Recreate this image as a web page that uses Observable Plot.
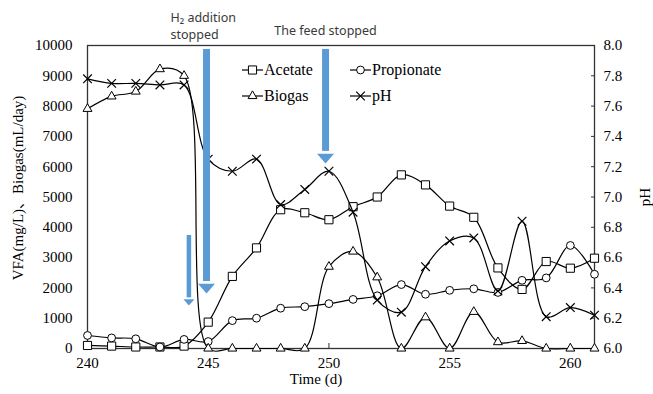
<!DOCTYPE html>
<html>
<head>
<meta charset="utf-8">
<script src="https://cdn.jsdelivr.net/npm/d3@7"></script>
<script src="https://cdn.jsdelivr.net/npm/@observablehq/plot@0.6"></script>
<style>
  html, body { margin: 0; padding: 0; background: #fff; }
  #wrap { position: relative; width: 653px; height: 394px; overflow: hidden; }
  #legend { position: absolute; left: 242px; top: 57px; display: grid;
    grid-template-columns: 108px auto; grid-auto-rows: 26px;
    font-family: "Liberation Serif", serif; font-size: 16px; color: #000; }
  #legend .item { display: flex; align-items: center; white-space: nowrap; }
  #legend svg { margin-right: 1px; }
</style>
</head>
<body>
<div id="wrap"></div>
<script>
// ---- data ----
const days = [240,241,242,243,244,245,246,247,248,249,250,251,252,253,254,255,256,257,258,259,260,261];
const acetate = [100,80,50,50,80,870,2380,3320,4580,4480,4250,4680,5000,5730,5400,4700,4330,2660,1950,2870,2650,2980];
const propionate = [430,350,320,50,300,230,920,1000,1330,1380,1480,1620,1740,2110,1790,1920,1970,1850,2250,2330,3400,2450];
const biogas = [7910,8320,8480,9220,9000,0,0,0,0,0,2700,3200,2350,0,1030,0,1210,210,250,0,0,0];
const pH = [7.78,7.75,7.75,7.74,7.74,7.25,7.17,7.25,6.95,7.05,7.17,6.90,6.32,6.24,6.54,6.71,6.73,6.38,6.84,6.21,6.27,6.22];

const xTicks = [240,245,250,255,260];
const yTicks = [0,1000,2000,3000,4000,5000,6000,7000,8000,9000,10000];
const pHTicks = [6.0,6.2,6.4,6.6,6.8,7.0,7.2,7.4,7.6,7.8,8.0];
const seriesNames = ["Acetate","Propionate","Biogas","pH"];
const seriesSymbols = ["square","circle","triangle","times"];

// annotation arrows (day, top value, tip value on left axis)
const arrowDays = [244.93, 249.86, 244.2];
const arrowTops = [9870, 9870, 3730];
const arrowTips = [1815, 6105, 1420];
const arrowSizes = ["big","big","small"];
const annotationLabels = ["H\u2082 addition\nstopped", "The feed stopped"];
const annotationDays = [244.93, 249.86];

// ---- build ----
const pHToLeft = p => (p - 6) * 5000;
const rows = days.map((d, i) => ({day: d, acetate: acetate[i], propionate: propionate[i], biogas: biogas[i], pH: pH[i]}));
const arrows = arrowDays.map((d, i) => ({day: d, top: arrowTops[i], tip: arrowTips[i], size: arrowSizes[i]}));
const bigArrows = arrows.filter(a => a.size === "big");
const smallArrows = arrows.filter(a => a.size === "small");

const blue = "#5b9bd5";
const headSymbol = {
  draw(context, size) {
    const r = Math.sqrt(size / Math.PI);
    const h = 1.15 * r;
    context.moveTo(-r, -h);
    context.lineTo(r, -h);
    context.lineTo(0, 0);
    context.closePath();
  }
};

const serif = "'Liberation Serif', 'Noto Sans CJK SC', serif";
const lineOpts = {curve: "catmull-rom", stroke: "#000", strokeWidth: 1.2};

const chart = Plot.plot({
  width: 653, height: 394,
  marginTop: 45, marginRight: 59, marginBottom: 46, marginLeft: 87,
  style: {fontFamily: serif, fontSize: "15px", color: "#000", background: "#fff", overflow: "visible"},
  x: {domain: [240, 261]},
  y: {domain: [0, 10000]},
  marks: [
    Plot.axisX(xTicks, {tickSize: -5, tickPadding: 14, tickFormat: d => String(d), label: null, stroke: "#333"}),
    Plot.axisY(yTicks, {anchor: "left", tickSize: 0, tickPadding: 15, tickFormat: d => String(d), label: null}),
    Plot.axisY(pHTicks.map(pHToLeft), {anchor: "right", tickSize: -4, tickPadding: 13,
      tickFormat: v => (6 + v / 5000).toFixed(1), label: null, stroke: "#333"}),
    Plot.frame({stroke: "#333", strokeWidth: 1.3}),
    Plot.text(["VFA(mg/L)\u3001Biogas(mL/day)"], {text: d => d, frameAnchor: "left", textAnchor: "middle", rotate: -90, dx: -69, dy: -9, fontSize: 15}),
    Plot.text(["pH"], {text: d => d, frameAnchor: "right", textAnchor: "middle", rotate: -90, dx: 51, dy: 0, fontSize: 15}),
    Plot.text(["Time (d)"], {text: d => d, frameAnchor: "bottom", textAnchor: "middle", dx: -25, dy: 35, fontSize: 15}),

    Plot.line(rows, {x: "day", y: "acetate", ...lineOpts}),
    Plot.dot(rows, {x: "day", y: "acetate", symbol: "square", r: 4.6, fill: "#fff", stroke: "#000", strokeWidth: 1}),
    Plot.line(rows, {x: "day", y: "propionate", ...lineOpts}),
    Plot.dot(rows, {x: "day", y: "propionate", symbol: "circle", r: 3.9, fill: "#fff", stroke: "#000", strokeWidth: 1}),
    Plot.line(rows, {x: "day", y: "biogas", ...lineOpts}),
    Plot.dot(rows, {x: "day", y: "biogas", symbol: "triangle", r: 3.3, fill: "#fff", stroke: "#000", strokeWidth: 1}),
    Plot.line(rows, {x: "day", y: d => pHToLeft(d.pH), ...lineOpts}),
    Plot.dot(rows, {x: "day", y: d => pHToLeft(d.pH), symbol: "times", r: 4, stroke: "#000", strokeWidth: 1.2}),

    // arrows
    Plot.ruleX(bigArrows, {x: "day", y1: "top", y2: d => d.tip + 400, stroke: blue, strokeWidth: 7}),
    Plot.ruleX(smallArrows, {x: "day", y1: "top", y2: d => d.tip + 250, stroke: blue, strokeWidth: 4.5}),
    Plot.dot(bigArrows, {x: "day", y: "tip", symbol: headSymbol, r: 8.5, fill: blue, stroke: "none"}),
    Plot.dot(smallArrows, {x: "day", y: "tip", symbol: headSymbol, r: 5.5, fill: blue, stroke: "none"}),

    // annotations
    Plot.text([0], {x: () => annotationDays[0], text: () => annotationLabels[0], frameAnchor: "top", textAnchor: "start",
      lineAnchor: "middle", dx: -36, dy: -20.5, lineHeight: 1.36, fontFamily: "'Noto Sans', sans-serif", fontSize: 12.5, fill: "#3a3a3a"}),
    Plot.text([0], {x: () => annotationDays[1], text: () => annotationLabels[1], frameAnchor: "top", textAnchor: "middle",
      lineAnchor: "middle", dy: -15, fontFamily: "'Noto Sans', sans-serif", fontSize: 12.5, fill: "#3a3a3a"})
  ]
});

const wrap = document.getElementById("wrap");
wrap.appendChild(chart);

// legend
const legend = document.createElement("div");
legend.id = "legend";
seriesNames.forEach((name, i) => {
  const item = document.createElement("div");
  item.className = "item";
  const sw = d3.create("svg").attr("width", 21).attr("height", 12);
  sw.append("line").attr("x1", 0).attr("x2", 21).attr("y1", 6).attr("y2", 6).attr("stroke", "#000").attr("stroke-width", 1.2);
  const sym = {square: d3.symbolSquare, circle: d3.symbolCircle, triangle: d3.symbolTriangle, times: d3.symbolTimes}[seriesSymbols[i]];
  const rr = {square: 4.6, circle: 3.9, triangle: 3.3, times: 4}[seriesSymbols[i]];
  sw.append("path").attr("transform", "translate(10.5,6)")
    .attr("d", d3.symbol(sym, Math.PI * rr * rr)())
    .attr("fill", seriesSymbols[i] === "times" ? "none" : "#fff")
    .attr("stroke", "#000").attr("stroke-width", seriesSymbols[i] === "times" ? 1.2 : 1);
  item.appendChild(sw.node());
  const t = document.createElement("span");
  t.textContent = name;
  item.appendChild(t);
  legend.appendChild(item);
});
wrap.appendChild(legend);
</script>
</body>
</html>
